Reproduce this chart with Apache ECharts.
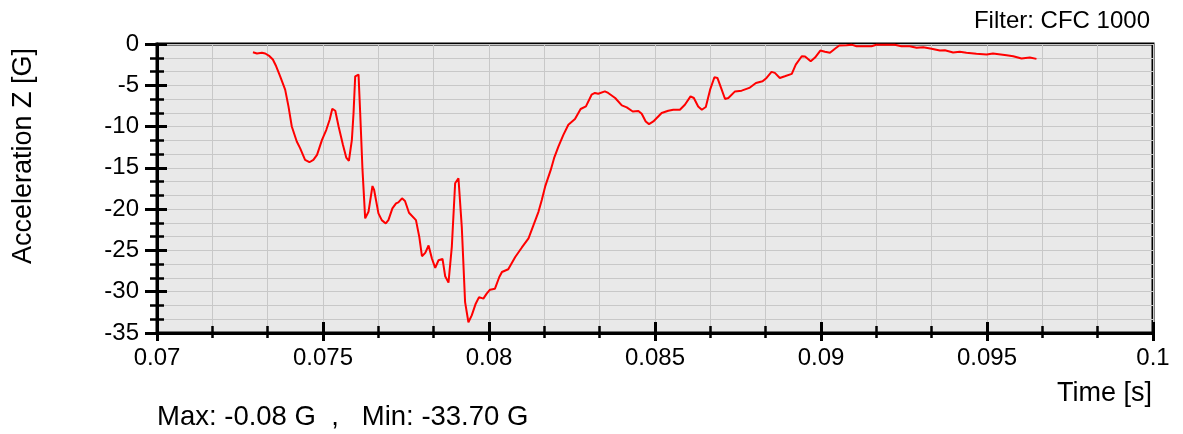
<!DOCTYPE html>
<html>
<head>
<meta charset="utf-8">
<script src="https://cdn.jsdelivr.net/npm/echarts@6/dist/echarts.min.js"></script>
<style>
  html, body { margin: 0; padding: 0; background: #fff; }
  #chart { width: 1183px; height: 434px; }
</style>
</head>
<body>
<div id="chart"></div>
<script>
// time [s] and acceleration [G]
const timeS = [
  0.07289, 0.07301, 0.07316, 0.07326, 0.07339, 0.07349, 0.07359, 0.07371, 0.07386, 0.07396,
  0.07406, 0.07421, 0.07431, 0.07446, 0.07459, 0.07471, 0.07482, 0.07497, 0.07510, 0.07520,
  0.07528, 0.07537, 0.07547, 0.07560, 0.07570, 0.07578, 0.07587, 0.07592, 0.07597, 0.07600,
  0.07607, 0.07612, 0.07619, 0.07627, 0.07637, 0.07649, 0.07654, 0.07667, 0.07677, 0.07689,
  0.07697, 0.07709, 0.07720, 0.07727, 0.07738, 0.07747, 0.07759, 0.07780, 0.07790, 0.07798,
  0.07808, 0.07818, 0.07828, 0.07838, 0.07848, 0.07860, 0.07868, 0.07878, 0.07888, 0.07898,
  0.07908, 0.07918, 0.07928, 0.07938, 0.07948, 0.07960, 0.07970, 0.07983, 0.07993, 0.08003,
  0.08018, 0.08031, 0.08039, 0.08058, 0.08079, 0.08099, 0.08119, 0.08134, 0.08149, 0.08159,
  0.08169, 0.08186, 0.08196, 0.08209, 0.08224, 0.08239, 0.08259, 0.08276, 0.08292, 0.08309,
  0.08319, 0.08329, 0.08349, 0.08359, 0.08380, 0.08400, 0.08415, 0.08433, 0.08450, 0.08460,
  0.08472, 0.08482, 0.08495, 0.08520, 0.08540, 0.08555, 0.08575, 0.08590, 0.08607, 0.08617,
  0.08630, 0.08641, 0.08653, 0.08666, 0.08679, 0.08688, 0.08699, 0.08711, 0.08721, 0.08741,
  0.08761, 0.08784, 0.08804, 0.08824, 0.08836, 0.08851, 0.08861, 0.08876, 0.08891, 0.08912,
  0.08924, 0.08942, 0.08952, 0.08969, 0.08982, 0.08998, 0.09012, 0.09027, 0.09042, 0.09055,
  0.09077, 0.09092, 0.09107, 0.09137, 0.09152, 0.09167, 0.09197, 0.09222, 0.09242, 0.09267,
  0.09288, 0.09308, 0.09333, 0.09358, 0.09373, 0.09398, 0.09418, 0.09438, 0.09468, 0.09499,
  0.09518, 0.09559, 0.09579, 0.09604, 0.09629, 0.09649
];
const accelG = [
  -1.00, -1.15, -1.07, -1.15, -1.48, -1.88, -2.70, -3.91, -5.53, -7.56,
  -9.99, -11.81, -12.61, -14.04, -14.32, -14.04, -13.43, -11.61, -10.39, -9.17,
  -7.84, -8.08, -9.99, -12.21, -13.76, -14.16, -11.61, -8.36, -3.91, -3.71,
  -3.71, -8.32, -15.25, -21.12, -20.32, -17.20, -17.68, -20.51, -21.33, -21.73,
  -21.33, -19.91, -19.30, -19.18, -18.69, -19.02, -20.44, -21.33, -23.36, -25.70,
  -25.30, -24.40, -25.98, -27.12, -26.19, -26.03, -28.13, -28.90, -24.57, -16.87,
  -16.26, -22.14, -31.26, -33.70, -32.87, -31.45, -30.65, -30.84, -30.23, -29.75,
  -29.63, -28.22, -27.61, -27.28, -25.79, -24.64, -23.55, -21.93, -20.32, -18.90,
  -17.28, -15.25, -13.83, -12.42, -11.00, -9.78, -9.09, -7.87, -7.56, -6.14,
  -5.93, -6.02, -5.74, -5.93, -6.54, -7.44, -7.68, -8.17, -8.12, -8.45,
  -9.38, -9.70, -9.38, -8.36, -8.08, -7.96, -7.96, -7.35, -6.34, -6.54,
  -7.56, -7.96, -7.63, -5.53, -4.03, -4.11, -5.32, -6.66, -6.54, -5.74,
  -5.65, -5.32, -4.72, -4.52, -4.11, -3.38, -3.50, -4.11, -3.91, -3.62,
  -2.49, -1.48, -1.52, -2.09, -1.64, -0.79, -0.94, -1.07, -0.58, -0.18,
  -0.15, -0.08, -0.27, -0.27, -0.27, -0.10, -0.09, -0.09, -0.27, -0.27,
  -0.46, -0.39, -0.58, -0.79, -0.75, -1.03, -0.95, -1.07, -1.19, -1.28,
  -1.15, -1.36, -1.48, -1.76, -1.64, -1.80
];

const filterText = "Filter: CFC 1000";
const statsText = "Max: -0.08 G  ,   Min: -33.70 G";

const font = "Liberation Sans, Arial, sans-serif";
const gridColor = "#c8c8c8";

const chart = echarts.init(document.getElementById("chart"));

// two copies of each axis: one with ticks outside (and labels), one with ticks inside,
// so the ticks cross the axis line like in the original
const xBase = {
  type: "value",
  min: 0.07,
  max: 0.1,
  interval: 0.005,
  position: "bottom",
};
const yBase = {
  type: "value",
  min: -35,
  max: 0,
  interval: 5,
  position: "left",
};

const option = {
  animation: false,
  grid: {
    left: 157,
    right: 30,
    top: 44,
    bottom: 101,
    show: true,
    backgroundColor: "#e9e9e9",
    borderColor: "#000",
    borderWidth: 3,
  },
  xAxis: [
    {
      ...xBase,
      axisLine: { show: true, onZero: false, lineStyle: { color: "#000", width: 3 } },
      axisTick: { show: true, inside: false, length: 8, lineStyle: { color: "#000", width: 3 } },
      minorTick: { show: true, splitNumber: 3, length: 5, lineStyle: { color: "#000", width: 2.5 } },
      splitLine: { show: true, lineStyle: { color: gridColor, width: 1 } },
      minorSplitLine: { show: true, lineStyle: { color: gridColor, width: 1 } },
      axisLabel: {
        margin: 13,
        color: "#000",
        fontFamily: font,
        fontSize: 24,
        formatter: (v) => String(parseFloat(v.toFixed(4))),
      },
    },
    {
      ...xBase,
      axisLine: { show: false, onZero: false },
      axisTick: { show: true, inside: true, length: 11, lineStyle: { color: "#000", width: 3 } },
      minorTick: { show: true, splitNumber: 3, length: 7, lineStyle: { color: "#000", width: 2.5 } },
      splitLine: { show: false },
      axisLabel: { show: false },
    },
  ],
  yAxis: [
    {
      ...yBase,
      axisLine: { show: true, onZero: false, lineStyle: { color: "#000", width: 3 } },
      axisTick: { show: true, inside: false, length: 12, lineStyle: { color: "#000", width: 3 } },
      minorTick: { show: true, splitNumber: 3, length: 7, lineStyle: { color: "#000", width: 2.5 } },
      splitLine: { show: true, lineStyle: { color: gridColor, width: 1 } },
      minorSplitLine: { show: true, lineStyle: { color: gridColor, width: 1 } },
      axisLabel: {
        margin: 18,
        color: "#000",
        fontFamily: font,
        fontSize: 24,
      },
    },
    {
      ...yBase,
      axisLine: { show: false, onZero: false },
      axisTick: { show: true, inside: true, length: 10, lineStyle: { color: "#000", width: 3 } },
      minorTick: { show: true, splitNumber: 3, length: 7, lineStyle: { color: "#000", width: 2.5 } },
      splitLine: { show: false },
      axisLabel: { show: false },
    },
  ],
  graphic: [
    {
      type: "text",
      x: 1150,
      y: 21,
      style: {
        text: filterText,
        fill: "#000",
        font: "24px " + font,
        textAlign: "right",
        textVerticalAlign: "middle",
      },
    },
    {
      type: "text",
      x: 1152,
      y: 394,
      style: {
        text: "Time [s]",
        fill: "#000",
        font: "27px " + font,
        textAlign: "right",
        textVerticalAlign: "middle",
      },
    },
    {
      type: "text",
      x: 24,
      y: 156,
      rotation: Math.PI / 2,
      style: {
        text: "Acceleration Z [G]",
        fill: "#000",
        font: "27px " + font,
        textAlign: "center",
        textVerticalAlign: "middle",
      },
    },
    {
      type: "text",
      x: 157,
      y: 417,
      style: {
        text: statsText,
        fill: "#000",
        font: "27.5px " + font,
        textAlign: "left",
        textVerticalAlign: "middle",
      },
    },
  ],
  series: [
    {
      type: "line",
      xAxisIndex: 0,
      yAxisIndex: 0,
      data: timeS.map((t, i) => [t, accelG[i]]),
      symbol: "none",
      smooth: false,
      lineStyle: { color: "#ff0000", width: 2 },
    },
  ],
};

chart.setOption(option);
</script>
</body>
</html>
